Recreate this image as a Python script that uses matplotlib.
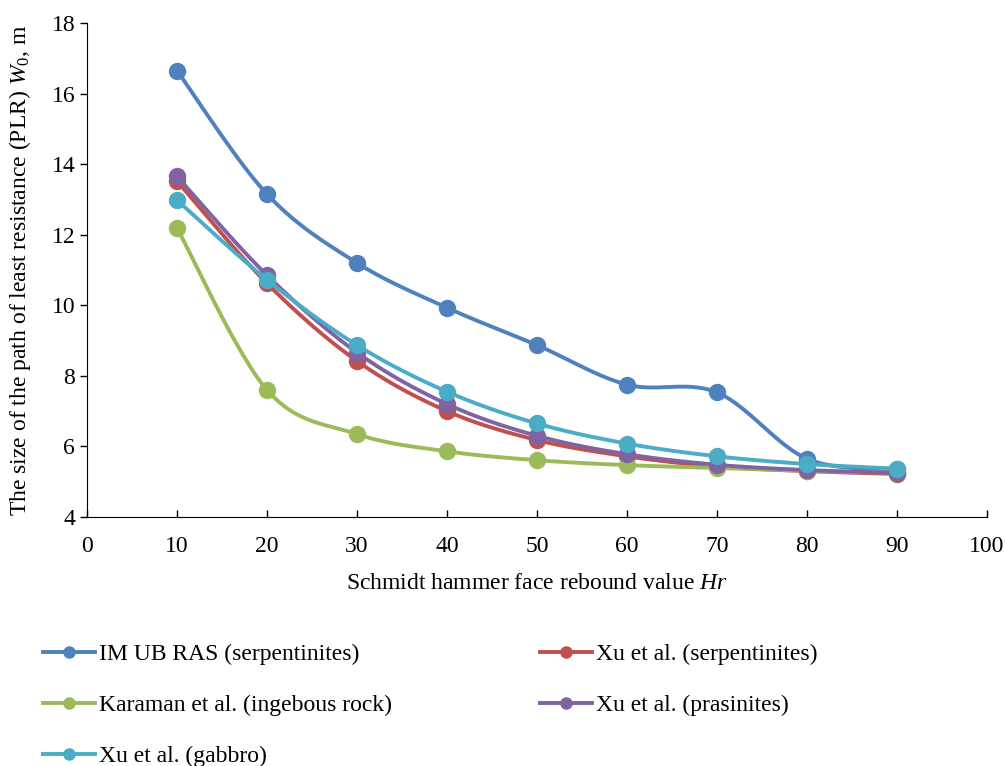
import numpy as np
import matplotlib
matplotlib.use("Agg")
import matplotlib.pyplot as plt

plt.rcParams['font.family'] = ['Liberation Serif', 'DejaVu Serif']
plt.rcParams['mathtext.fontset'] = 'custom'
plt.rcParams['mathtext.rm'] = 'Liberation Serif'
plt.rcParams['mathtext.it'] = 'Liberation Serif:italic'

hr = [10, 20, 30, 40, 50, 60, 70, 80, 90]

im_ub_ras = [16.65, 13.15, 11.2, 9.93, 8.87, 7.75, 7.53, 5.65, 5.35]
xu_serp = [13.52, 10.62, 8.42, 7.0, 6.18, 5.72, 5.43, 5.3, 5.22]
karaman = [12.19, 7.6, 6.35, 5.86, 5.61, 5.47, 5.39, 5.31, 5.25]
xu_pras = [13.65, 10.85, 8.66, 7.2, 6.3, 5.78, 5.48, 5.33, 5.25]
xu_gabbro = [12.98, 10.72, 8.87, 7.55, 6.65, 6.08, 5.72, 5.5, 5.37]

labels = ["IM UB RAS (serpentinites)", "Xu et al. (serpentinites)",
          "Karaman et al. (ingebous rock)", "Xu et al. (prasinites)",
          "Xu et al. (gabbro)"]
colors = ["#4F81BD", "#C0504D", "#9BBB59", "#8064A2", "#4BACC6"]


def smooth(x, y, n=30):
    # Excel-like smoothed line (Catmull-Rom bezier)
    x = np.asarray(x, float)
    y = np.asarray(y, float)
    px = np.concatenate([[x[0]], x, [x[-1]]])
    py = np.concatenate([[y[0]], y, [y[-1]]])
    xs, ys = [], []
    t = np.linspace(0, 1, n)
    for i in range(1, len(px) - 2):
        p0 = np.array([px[i], py[i]])
        p3 = np.array([px[i + 1], py[i + 1]])
        c1 = p0 + (p3 - np.array([px[i - 1], py[i - 1]])) / 6
        c2 = p3 - (np.array([px[i + 2], py[i + 2]]) - p0) / 6
        b = ((1 - t) ** 3)[:, None] * p0 + (3 * (1 - t) ** 2 * t)[:, None] * c1 \
            + (3 * (1 - t) * t ** 2)[:, None] * c2 + (t ** 3)[:, None] * p3
        xs.extend(b[:, 0])
        ys.extend(b[:, 1])
    return xs, ys


fig = plt.figure(figsize=(10.05, 7.66), dpi=100)
ax = fig.add_axes([87 / 1005, 1 - 517 / 766, 900 / 1005, 494 / 766])

series = [im_ub_ras, xu_serp, karaman, xu_pras, xu_gabbro]
handles = []
for vals, lab, col in zip(series, labels, colors):
    sx, sy = smooth(hr, vals)
    ax.plot(sx, sy, color=col, lw=2.8, solid_capstyle='round')
    ax.plot(hr, vals, 'o', color=col, ms=11.5)
    h, = ax.plot([], [], color=col, lw=2.8, marker='o', ms=8, label=lab)
    handles.append(h)

ax.set_xlim(0, 100)
ax.set_ylim(4, 18)
ax.set_xticks(np.arange(0, 101, 10))
ax.set_yticks(np.arange(4, 19, 2))
ax.spines['top'].set_visible(False)
ax.spines['right'].set_visible(False)
ax.tick_params(labelsize=17, length=5, width=1)
ax.tick_params(axis='x', direction='in', pad=14)
ax.tick_params(axis='y', direction='out')
ax.set_xlabel("Schmidt hammer face rebound value $Hr$", fontsize=17, labelpad=11)
ax.set_ylabel("The size of the path of least resistance (PLR) $W_0$, m", fontsize=17, labelpad=13)

order = [0, 2, 4, 1, 3]
fig.legend([handles[i] for i in order], [labels[i] for i in order],
           loc='upper left', bbox_to_anchor=(22 / 1005, 1 - 622 / 766),
           ncol=2, frameon=False, fontsize=17, handlelength=2.2,
           handletextpad=0.15, columnspacing=6.3, labelspacing=1.25)

fig.savefig("out.png", dpi=100)
